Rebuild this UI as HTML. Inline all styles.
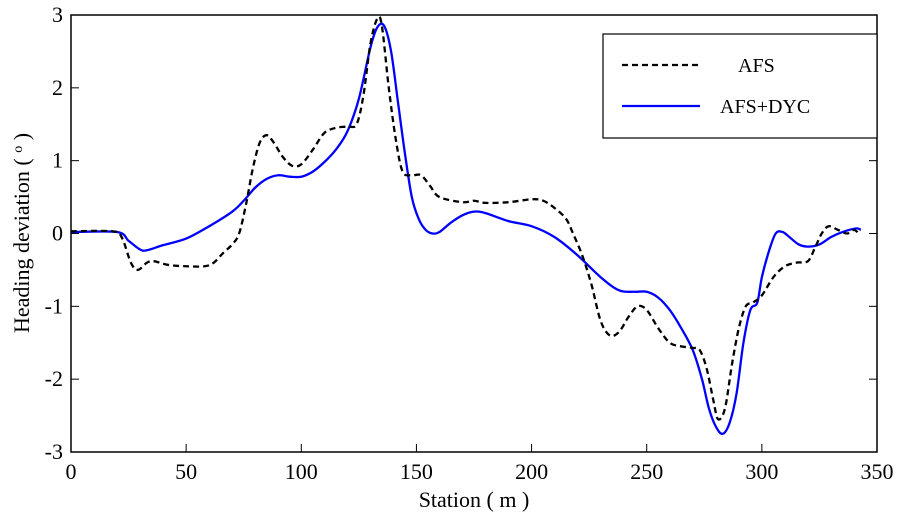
<!DOCTYPE html>
<html><head><meta charset="utf-8"><style>
html,body{margin:0;padding:0;background:#fff;}
svg{display:block;font-family:"Liberation Serif",serif;}
</style></head><body>
<svg id="chart" width="898" height="516" viewBox="0 0 898 516" xmlns="http://www.w3.org/2000/svg">
<g id="ticks"></g>
<g id="series"></g>
<rect x="71" y="15" width="806" height="437" fill="none" stroke="#000" stroke-width="1.5"/>
<text x="474" y="507" font-size="22" text-anchor="middle">Station ( m )</text>
<text transform="translate(29,233) rotate(-90)" font-size="22" text-anchor="middle">Heading deviation ( <tspan baseline-shift="super" font-size="14">o</tspan> )</text>
<g>
<rect x="603" y="34" width="274" height="104" fill="#fff" stroke="#000" stroke-width="1.2"/>
<line x1="622" y1="65" x2="700" y2="65" stroke="#000" stroke-width="2.2" stroke-dasharray="6,4"/>
<text x="738" y="72" font-size="20">AFS</text>
<line x1="622" y1="106" x2="700" y2="106" stroke="#0000ff" stroke-width="2.2"/>
<text x="720" y="113" font-size="20">AFS+DYC</text>
</g>
</svg>
<script>
const xTicks=[0,50,100,150,200,250,300,350];
const yTicks=[-3,-2,-1,0,1,2,3];
const afsX=[0,18,22,26,29,33,36,42,50,58,62,66,70,73,76,79,82,85,88,92,96,100,105,110,115,120,124,127,130,133,135,138,141,144,148,152,156,160,170,175,180,190,200,205,210,215,218,222,226,230,234,238,242,246,250,255,260,265,270,273,276,279,281,284,287,290,293,296,300,305,310,315,320,323,326,329,333,337,340,342];
const afsY=[0.03,0.03,-0.05,-0.4,-0.5,-0.4,-0.38,-0.43,-0.45,-0.45,-0.4,-0.27,-0.15,0,0.4,0.9,1.25,1.35,1.25,1.05,0.93,0.95,1.15,1.38,1.45,1.47,1.5,1.9,2.6,2.95,2.85,2.0,1.3,0.85,0.8,0.8,0.65,0.5,0.43,0.45,0.42,0.43,0.47,0.45,0.35,0.2,0,-0.3,-0.7,-1.2,-1.4,-1.35,-1.15,-1.0,-1.05,-1.3,-1.5,-1.55,-1.57,-1.6,-1.85,-2.3,-2.55,-2.4,-1.8,-1.3,-1.0,-0.95,-0.85,-0.6,-0.45,-0.4,-0.38,-0.2,0,0.1,0.05,0,0.05,0];
const dycX=[0,20,25,30,33,40,50,60,70,75,80,85,90,95,100,105,110,115,120,125,130,133,136,139,142,145,148,151,154,157,160,165,170,175,180,190,200,210,220,230,238,245,250,255,260,265,270,274,277,280,283,286,289,292,295,298,300,303,306,309,312,316,320,325,330,335,341,343];
const dycY=[0.02,0.02,-0.1,-0.22,-0.23,-0.16,-0.07,0.1,0.3,0.45,0.63,0.75,0.8,0.78,0.78,0.85,0.98,1.15,1.4,1.85,2.55,2.83,2.85,2.5,1.8,1.1,0.5,0.2,0.05,0,0.02,0.15,0.25,0.3,0.28,0.17,0.1,-0.05,-0.3,-0.6,-0.78,-0.8,-0.8,-0.88,-1.05,-1.3,-1.6,-2.0,-2.4,-2.65,-2.75,-2.6,-2.2,-1.5,-1.05,-0.95,-0.6,-0.25,0,0.02,-0.05,-0.15,-0.18,-0.15,-0.05,0.02,0.07,0.05];
const X0=71,X1=877,Y0=452,Y1=15;
function sx(v){return X0+(v-0)/(350-0)*(X1-X0);}
function sy(v){return Y0-(v+3)/6*(Y0-Y1);}
const NS="http://www.w3.org/2000/svg";
const tg=document.getElementById('ticks');
xTicks.forEach(t=>{
  const l=document.createElementNS(NS,'line');
  
  
  l.setAttribute('x1',sx(t));l.setAttribute('x2',sx(t));l.setAttribute('y1',Y0);l.setAttribute('y2',Y0-8);l.setAttribute('stroke','#000');
  tg.appendChild(l);
  const tx=document.createElementNS(NS,'text');
  
  
  tx.setAttribute('x',sx(t));tx.setAttribute('y',479);tx.setAttribute('font-size','22');tx.setAttribute('text-anchor','middle');tx.textContent=t;
  tg.appendChild(tx);
});
yTicks.forEach(t=>{
  const l=document.createElementNS(NS,'line');
  
  
  l.setAttribute('x1',X0);l.setAttribute('x2',X0+8);l.setAttribute('y1',sy(t));l.setAttribute('y2',sy(t));l.setAttribute('stroke','#000');
  tg.appendChild(l);
  const l2=document.createElementNS(NS,'line');
  
  
  l2.setAttribute('x1',X1);l2.setAttribute('x2',X1-8);l2.setAttribute('y1',sy(t));l2.setAttribute('y2',sy(t));l2.setAttribute('stroke','#000');
  tg.appendChild(l2);
  const tx=document.createElementNS(NS,'text');
  
  
  tx.setAttribute('x',63);tx.setAttribute('y',sy(t)+7);tx.setAttribute('font-size','22');tx.setAttribute('text-anchor','end');tx.textContent=t;
  tg.appendChild(tx);
});
function pathD(xs,ys){
  const p=xs.map((x,i)=>[sx(x),sy(ys[i])]);
  let d='M'+p[0][0]+','+p[0][1];
  for(let i=0;i<p.length-1;i++){
    const p0=p[Math.max(i-1,0)],p1=p[i],p2=p[i+1],p3=p[Math.min(i+2,p.length-1)];
    const c1=[p1[0]+(p2[0]-p0[0])/6,p1[1]+(p2[1]-p0[1])/6];
    const c2=[p2[0]-(p3[0]-p1[0])/6,p2[1]-(p3[1]-p1[1])/6];
    d+=' C'+c1[0]+','+c1[1]+' '+c2[0]+','+c2[1]+' '+p2[0]+','+p2[1];
  }
  return d;
}
const sg=document.getElementById('series');
const dyc=document.createElementNS(NS,'path');


dyc.setAttribute('d',pathD(dycX,dycY));dyc.setAttribute('fill','none');dyc.setAttribute('stroke','#0000ff');dyc.setAttribute('stroke-width','2.3');
sg.appendChild(dyc);
const afs=document.createElementNS(NS,'path');


afs.setAttribute('d',pathD(afsX,afsY));afs.setAttribute('fill','none');afs.setAttribute('stroke','#000');afs.setAttribute('stroke-width','2.3');afs.setAttribute('stroke-dasharray','6,4');
sg.appendChild(afs);
</script>
</body></html>
